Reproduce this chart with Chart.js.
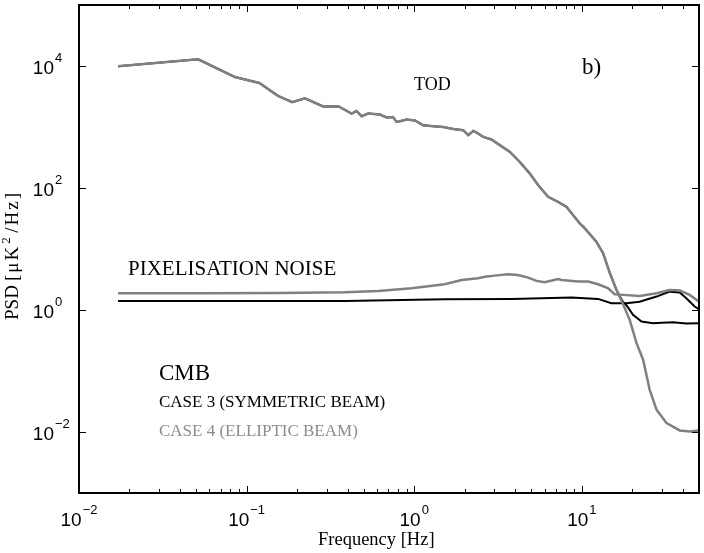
<!DOCTYPE html>
<html>
<head>
<meta charset="utf-8">
<script src="https://cdn.jsdelivr.net/npm/chart.js@4.4.0/dist/chart.umd.min.js"></script>
<style>
  body { margin: 0; background: #fff; }
  #wrap { width: 704px; height: 553px; }
</style>
</head>
<body>
<div id="wrap"><canvas id="psdChart"></canvas></div>
<script>
// --- data (Hz, µK²/Hz) ---

// TOD, common part of both cases
const todFreq = [0.0171, 0.0514, 0.0851, 0.119, 0.154, 0.187, 0.223, 0.286, 0.352, 0.423,
  0.453, 0.485, 0.531, 0.624, 0.684, 0.748, 0.784, 0.821, 0.900, 1.008,
  1.13, 1.30, 1.49, 1.71, 1.96, 2.10, 2.25, 2.35, 2.58, 2.89, 3.24,
  3.72, 4.26, 4.89, 5.48, 6.29, 7.21, 8.09, 8.86, 9.72, 10.2,
  12.2, 13.4, 14.7, 16.1];
const todPsd = [9900, 12900, 6600, 5270, 3230, 2550, 2960, 2170, 2190, 1660,
  1830, 1500, 1660, 1600, 1430, 1460, 1210, 1240, 1330, 1280,
  1070, 1030, 1000, 930, 886, 735, 863, 813, 689, 624, 504,
  391, 268, 173, 112, 71.8, 59.4, 49.2, 36.0, 26.3, 23.2,
  13.2, 8.5, 4.0, 2.13];

// TOD tails, where the two cases split
const todTailFreq3 = [17.6, 18.45, 20.2, 22.7, 26.6, 30.0, 35.0, 42.0, 50.0];
const todTail3 = [1.35, 1.2, 0.831, 0.646, 0.608, 0.62, 0.631, 0.60, 0.608];
const todTailFreq4 = [17.6, 19.3, 21.2, 23.2, 25.4, 27.9, 32.0, 38.4, 44.0, 50.0];
const todTail4 = [1.25, 0.689, 0.286, 0.153, 0.0492, 0.0232, 0.0140, 0.0106, 0.0102, 0.0106];

// pixelisation noise
const pixFreq3 = [0.0171, 0.386, 1.52, 3.80, 8.67, 12.5, 15.0, 18.45, 22.1, 27.9,
  33.4, 38.4, 42.0, 47.1, 50.0];
const pix3 = [1.41, 1.41, 1.50, 1.52, 1.60, 1.52, 1.29, 1.29, 1.37, 1.66,
  2.00, 1.93, 1.56, 1.14, 1.03];
const pixFreq4 = [0.0171, 0.0527, 0.158, 0.386, 0.609, 0.964, 1.52, 1.92, 2.40, 2.64,
  3.02, 3.63, 4.16, 4.78, 5.36, 6.01, 7.21, 7.56, 9.49, 10.9,
  12.5, 14.3, 15.7, 17.6, 22.1, 27.9, 33.4, 38.4, 44.0, 50.0];
const pix4 = [1.88, 1.88, 1.90, 1.96, 2.05, 2.28, 2.64, 3.11, 3.32, 3.52,
  3.66, 3.85, 3.75, 3.39, 3.0, 2.85, 3.23, 3.11, 2.92, 2.92,
  2.64, 2.28, 1.81, 1.77, 1.70, 1.88, 2.13, 2.08, 1.77, 1.37];

// axis ticks
const xMajorTicks = [0.01, 0.1, 1, 10];
const xTickLabels = ['\u22122', '\u22121', '0', '1'];
const yMajorTicks = [1e-2, 1, 1e2, 1e4];
const yTickLabels = ['\u22122', '0', '2', '4'];

const GRAY = '#808080';
const SERIF = '"Liberation Serif", "Times New Roman", serif';
const SANS = '"Liberation Sans", Arial, sans-serif';

function toPoints(xs, ys) {
  return xs.map((f, i) => ({ x: f, y: ys[i] }));
}

const todCase4 = toPoints(todFreq.concat(todTailFreq4), todPsd.concat(todTail4));
const todCase3 = toPoints(todFreq.concat(todTailFreq3), todPsd.concat(todTail3));

// minor ticks on the frequency axis (2..9 in each decade)
const xMinorTicks = [];
xMajorTicks.forEach(d => {
  for (let k = 2; k <= 9; k++) {
    if (k * d <= 50) xMinorTicks.push(k * d);
  }
});

function drawPower(ctx, exp, x, baseY, centred) {
  ctx.font = '19px ' + SANS;
  const wb = ctx.measureText('10').width;
  ctx.font = '13px ' + SANS;
  const we = ctx.measureText(exp).width;
  const left = centred ? x - (wb + we + 1) / 2 : x - wb;
  ctx.font = '19px ' + SANS;
  ctx.fillText('10', left, baseY);
  ctx.font = '13px ' + SANS;
  ctx.fillText(exp, left + wb + 1, baseY - 12);
}

const framePlugin = {
  id: 'frame',
  afterDraw(chart) {
    const { ctx, chartArea: a, scales: { x, y } } = chart;
    ctx.save();
    ctx.strokeStyle = '#000';
    ctx.fillStyle = '#000';

    // inward ticks
    ctx.lineWidth = 1;
    ctx.beginPath();
    xMinorTicks.forEach(v => {
      const px = Math.round(x.getPixelForValue(v)) + 0.5;
      ctx.moveTo(px, a.bottom); ctx.lineTo(px, a.bottom - 4);
      ctx.moveTo(px, a.top); ctx.lineTo(px, a.top + 4);
    });
    xMajorTicks.forEach(v => {
      const px = Math.round(x.getPixelForValue(v)) + 0.5;
      ctx.moveTo(px, a.bottom); ctx.lineTo(px, a.bottom - 7);
      ctx.moveTo(px, a.top); ctx.lineTo(px, a.top + 7);
    });
    yMajorTicks.forEach(v => {
      const py = Math.round(y.getPixelForValue(v)) + 0.5;
      ctx.moveTo(a.left, py); ctx.lineTo(a.left + 7, py);
      ctx.moveTo(a.right, py); ctx.lineTo(a.right - 7, py);
    });
    ctx.stroke();

    // box
    ctx.lineWidth = 2;
    ctx.strokeRect(a.left, a.top, a.right - a.left, a.bottom - a.top);

    // tick labels
    ctx.textAlign = 'left';
    ctx.textBaseline = 'alphabetic';
    xMajorTicks.forEach((v, i) => {
      drawPower(ctx, xTickLabels[i], x.getPixelForValue(v), a.bottom + 33, true);
    });
    yMajorTicks.forEach((v, i) => {
      drawPower(ctx, yTickLabels[i], a.left - 25, y.getPixelForValue(v) + 7.5, false);
    });

    // axis titles
    ctx.font = '18.5px ' + SERIF;
    ctx.fillText('Frequency [Hz]', 318, 545);

    // y title, rotated; the bracketed unit is set a bit looser, as in the picture
    ctx.save();
    ctx.translate(17.5, 320);
    ctx.rotate(-Math.PI / 2);
    ctx.font = '19px ' + SERIF;
    ctx.fillText('PSD', 0, 0);
    ctx.letterSpacing = '2px';
    ctx.fillText('[\u03bcK', 39, 0);
    const wu = ctx.measureText('[\u03bcK').width;
    ctx.font = '13px ' + SERIF;
    ctx.fillText('2', 39 + wu + 1, -8);
    ctx.font = '19px ' + SERIF;
    ctx.fillText('/Hz]', 39 + wu + 12, 0);
    ctx.restore();

    // annotations
    ctx.font = '18px ' + SERIF;
    ctx.fillText('TOD', 414, 90);
    ctx.font = '23px ' + SERIF;
    ctx.fillText('b)', 582, 74);
    ctx.font = '21px ' + SERIF;
    ctx.fillText('PIXELISATION NOISE', 128, 275);
    ctx.font = '23px ' + SERIF;
    ctx.fillText('CMB', 159, 380);
    ctx.font = '17px ' + SERIF;
    ctx.fillText('CASE 3 (SYMMETRIC BEAM)', 159, 407);
    ctx.fillStyle = '#8c8c8c';
    ctx.fillText('CASE 4 (ELLIPTIC BEAM)', 159, 436);

    ctx.restore();
  }
};

const ctx = document.getElementById('psdChart').getContext('2d');
new Chart(ctx, {
  type: 'line',
  data: {
    datasets: [
      { label: 'TOD case 4', data: todCase4, borderColor: GRAY, borderWidth: 2.5 },
      { label: 'Pixelisation case 4', data: toPoints(pixFreq4, pix4), borderColor: GRAY, borderWidth: 2.5 },
      { label: 'TOD case 3', data: todCase3, borderColor: '#000', borderWidth: 2 },
      { label: 'Pixelisation case 3', data: toPoints(pixFreq3, pix3), borderColor: '#000', borderWidth: 2 }
    ]
  },
  options: {
    responsive: true,
    maintainAspectRatio: false,
    animation: false,
    layout: { padding: { left: 79, right: 5, top: 5, bottom: 60 } },
    elements: {
      point: { radius: 0 },
      line: { tension: 0, fill: false }
    },
    plugins: {
      legend: { display: false },
      tooltip: { enabled: false }
    },
    scales: {
      x: { type: 'logarithmic', min: 0.01, max: 50, display: false },
      y: { type: 'logarithmic', min: 1e-3, max: 1e5, display: false }
    }
  },
  plugins: [framePlugin]
});
</script>
</body>
</html>
